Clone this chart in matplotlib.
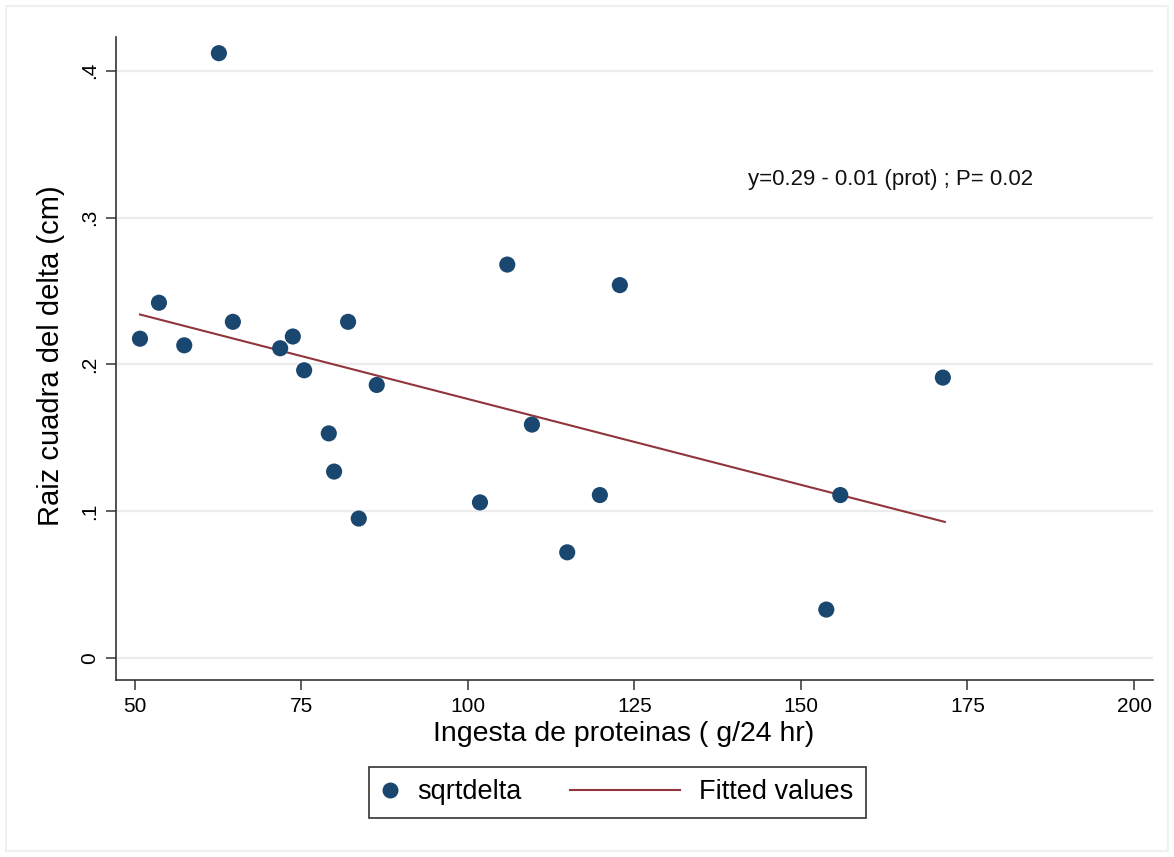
import numpy as np
import matplotlib
matplotlib.use('Agg')
import matplotlib.pyplot as plt
from matplotlib.lines import Line2D
from matplotlib.legend_handler import HandlerLine2D
from matplotlib.patches import Rectangle

plt.rcParams['font.family'] = ['Liberation Sans', 'DejaVu Sans']

# data
prot = [50.75, 53.6, 57.4, 62.6, 64.7, 71.8, 73.7, 75.4, 82.0, 79.1, 79.9,
        83.6, 86.3, 101.8, 105.9, 109.6, 114.9, 119.8, 122.8, 153.8, 155.9, 171.3]
sqrtdelta = [0.2175, 0.242, 0.213, 0.412, 0.229, 0.211, 0.219, 0.196, 0.229, 0.153, 0.127,
             0.095, 0.186, 0.106, 0.268, 0.159, 0.072, 0.111, 0.254, 0.033, 0.111, 0.191]
fit_x = [50.75, 171.6]
fit_y = [0.234, 0.0927]

xticks = [50, 75, 100, 125, 150, 175, 200]
yticks = [0, 0.1, 0.2, 0.3, 0.4]
ytick_labels = ['0', '.1', '.2', '.3', '.4']

navy = '#1a476f'
maroon = '#90353b'
dark = '#333333'


class LongLine(HandlerLine2D):
    # stretch the line key to the left, like stata does
    def get_xdata(self, legend, xdescent, ydescent, width, height, fontsize):
        x0 = -xdescent - 3.4 * fontsize
        x1 = -xdescent + width
        return np.array([x0, x1]), np.array([(x0 + x1) / 2])


fig = plt.figure(figsize=(11.74, 8.57), dpi=100)
fig.patches.append(Rectangle((0.005, 0.007), 0.99, 0.986, transform=fig.transFigure,
                             fill=False, edgecolor='#f0f0f0', lw=1.5))
ax = fig.add_axes([0.0988, 0.2065, 0.8833, 0.7503])

ax.plot(fit_x, fit_y, color=maroon, lw=1.5, zorder=2)
ax.scatter(prot, sqrtdelta, s=135, color=navy, edgecolors='none', zorder=3)

ax.text(142.0, 0.326, 'y=0.29 - 0.01 (prot) ; P= 0.02', fontsize=16,
        ha='left', va='center', color='#111111')

ax.set_xlim(47.15, 202.85)
ax.set_ylim(-0.015, 0.423)
ax.set_xticks(xticks)
ax.set_yticks(yticks)
ax.set_yticklabels(ytick_labels, rotation=90, va='center')
ax.grid(axis='y', color='#ececec', lw=1.6)
ax.set_axisbelow(True)

for s in ['top', 'right']:
    ax.spines[s].set_visible(False)
for s in ['left', 'bottom']:
    ax.spines[s].set_color(dark)
    ax.spines[s].set_linewidth(1.2)
ax.tick_params(length=7, width=1.1, color=dark, labelsize=15, pad=5)

ax.set_xlabel('Ingesta de proteinas ( g/24 hr)', fontsize=20.5)
ax.xaxis.set_label_coords(0.49, -0.064)
ax.set_ylabel('Raiz cuadra del delta (cm)', fontsize=21)
ax.yaxis.set_label_coords(-0.049, 0.505)

h_pt = Line2D([], [], ls='none', marker='o', markersize=11.5, color=navy, markeredgewidth=0)
h_fit = Line2D([], [], color=maroon, lw=1.5)
leg = fig.legend([h_pt, h_fit], ['sqrtdelta', 'Fitted values'], loc='center',
                 bbox_to_anchor=(0.5256, 0.0753), ncol=2, fontsize=19.5,
                 handlelength=0.65, handletextpad=0.7, columnspacing=5.2,
                 borderpad=0.45, fancybox=False, framealpha=1,
                 handler_map={h_fit: LongLine()})
leg.get_frame().set_edgecolor(dark)
leg.get_frame().set_linewidth(1.2)

fig.savefig('out.png', dpi=100)
